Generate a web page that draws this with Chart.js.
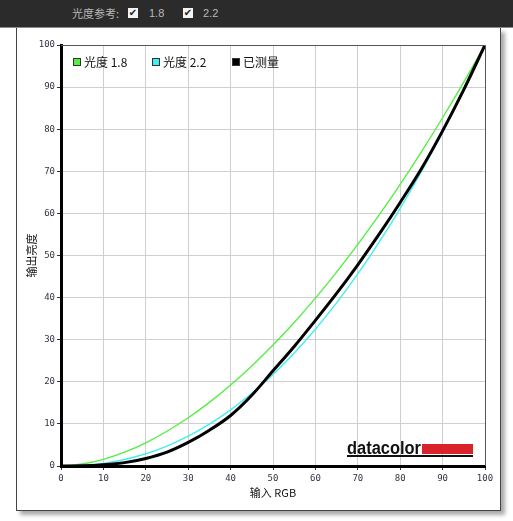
<!DOCTYPE html>
<html><head><meta charset="utf-8">
<script src="https://cdn.jsdelivr.net/npm/chart.js@4/dist/chart.umd.min.js"></script>
<style>
html,body{margin:0;padding:0;background:#fff;width:513px;height:521px;overflow:hidden;}
#bar{position:absolute;left:0;top:0;width:513px;height:27px;background:#2b2b2b;border-bottom:1px solid #8a8a8a;font-family:"Noto Sans CJK SC","Noto Sans",sans-serif;font-size:11px;color:#b8b8b8;}
#bar span{position:absolute;top:6px;line-height:14px;}
.cb{position:absolute;top:8px;width:10px;height:10px;background:#f4f4f4;color:#222;font-size:10px;line-height:10px;text-align:center;font-family:"DejaVu Sans",sans-serif;}
#panel{position:absolute;left:16px;top:28px;width:483px;height:482px;border:1px solid #444;border-top:none;box-shadow:4px 4px 4px #aaa;background:#fff;}
#c{position:absolute;left:0;top:0;}
</style></head><body>
<div id="bar"><span style="left:72px">光度参考:</span><div class="cb" style="left:128px">✔</div><span style="left:149px;font-family:'Liberation Sans',sans-serif">1.8</span><div class="cb" style="left:183px">✔</div><span style="left:203px;font-family:'Liberation Sans',sans-serif">2.2</span></div>
<div id="panel"><canvas id="c" width="483" height="482"></canvas></div>
<script>
const inputRGB = [0,5,10,15,20,25,30,35,40,45,50,55,60,65,70,75,80,85,90,95,100];
const gamma18 = [0,0.46,1.58,3.29,5.52,8.25,11.45,15.11,19.22,23.76,28.72,34.09,39.87,46.05,52.63,59.58,66.92,74.64,82.72,91.18,100];
const gamma22 = [0,0.14,0.63,1.54,2.90,4.74,7.07,9.93,13.32,17.26,21.76,26.84,32.50,38.76,45.63,53.10,61.21,69.94,79.31,89.33,100];
const measured = [0,0.05,0.3,0.8,1.8,3.3,5.6,8.5,12.0,16.8,22.6,28.4,34.6,41.0,47.8,55.0,62.6,70.6,79.6,89.4,100];
const seriesLabels = ['光度 1.8','光度 2.2','已测量'];
const xTitle = '输入 RGB';
const yTitle = '输出亮度';
const ticks = [0,10,20,30,40,50,60,70,80,90,100];

const pts = arr => inputRGB.map((x,i)=>({x:x,y:arr[i]}));

const framePlugin = {
  id:'frame',
  afterDraw(chart){
    const ctx=chart.ctx, a=chart.chartArea;
    ctx.save();
    ctx.strokeStyle='#555';ctx.lineWidth=1;
    ctx.beginPath();
    ctx.moveTo(a.left,a.top+0.5);ctx.lineTo(a.right+0.5,a.top+0.5);ctx.lineTo(a.right+0.5,a.bottom);
    ctx.stroke();
    // legend
    const xs=[a.left+12,a.left+91,a.left+171];
    ctx.font='12px "Noto Sans CJK SC", sans-serif';
    ctx.textBaseline='middle';
    chart.data.datasets.forEach((d,i)=>{
      const x=xs[i], y=a.top+13;
      ctx.fillStyle=d.borderColor; ctx.fillRect(x,y,8,8);
      ctx.strokeStyle='#333'; ctx.lineWidth=1; ctx.strokeRect(x+0.5,y+0.5,7,7);
      ctx.fillStyle='#111'; ctx.fillText(d.label,x+11,y+4);
    });
    // logo
    const lx=a.left+286, ly=a.bottom-12;
    ctx.font='bold 18px "Liberation Sans", sans-serif';
    ctx.textBaseline='alphabetic';
    const w=ctx.measureText('datacolor').width;
    ctx.save();ctx.translate(lx,ly);ctx.scale(74/w,1);ctx.fillStyle='#111';ctx.fillText('datacolor',0,0);ctx.restore();
    ctx.fillStyle='#d8232a';ctx.fillRect(lx+75,ly-10,51,10);
    ctx.fillStyle='#111';ctx.fillRect(lx,ly+1,126,2);
    ctx.restore();
  }
};

new Chart(document.getElementById('c'),{
  type:'scatter',
  data:{datasets:[
    {label:seriesLabels[0],data:pts(gamma18),borderColor:'#55ee44',backgroundColor:'#33ee22',borderWidth:1.4,showLine:true,pointRadius:0,cubicInterpolationMode:'monotone',order:2},
    {label:seriesLabels[1],data:pts(gamma22),borderColor:'#44eeee',backgroundColor:'#44eeee',borderWidth:1.4,showLine:true,pointRadius:0,cubicInterpolationMode:'monotone',order:1},
    {label:seriesLabels[2],data:pts(measured),borderColor:'#000',backgroundColor:'#000',borderWidth:3,showLine:true,pointRadius:0,cubicInterpolationMode:'monotone',order:0}
  ]},
  options:{
    responsive:false,animation:false,
    layout:{padding:{left:0,right:15,top:17,bottom:11}},
    plugins:{legend:{display:false},tooltip:{enabled:false}},
    scales:{
      x:{type:'linear',min:0,max:100,
        afterBuildTicks(s){s.ticks=ticks.map(v=>({value:v}));},
        afterFit(s){s.height=33;},
        grid:{color:'#cfcfcf',tickColor:'#333',tickLength:4,lineWidth:1},
        border:{color:'#000',width:3},
        ticks:{color:'#334',font:{family:'DejaVu Sans Mono',size:9},padding:3,maxRotation:0},
        title:{display:true,text:xTitle,color:'#111',font:{family:'Noto Sans CJK SC',size:11},padding:{top:2,bottom:0}}
      },
      y:{type:'linear',min:0,max:100,
        afterBuildTicks(s){s.ticks=ticks.map(v=>({value:v}));},
        afterFit(s){s.width=44;},
        grid:{color:'#cfcfcf',tickColor:'#333',tickLength:4,lineWidth:1},
        border:{color:'#000',width:3},
        ticks:{color:'#334',font:{family:'DejaVu Sans Mono',size:9},padding:2},
        title:{display:true,text:yTitle,color:'#111',font:{family:'Noto Sans CJK SC',size:11},padding:{top:8,bottom:0}}
      }
    }
  },
  plugins:[framePlugin]
});
</script></body></html>
